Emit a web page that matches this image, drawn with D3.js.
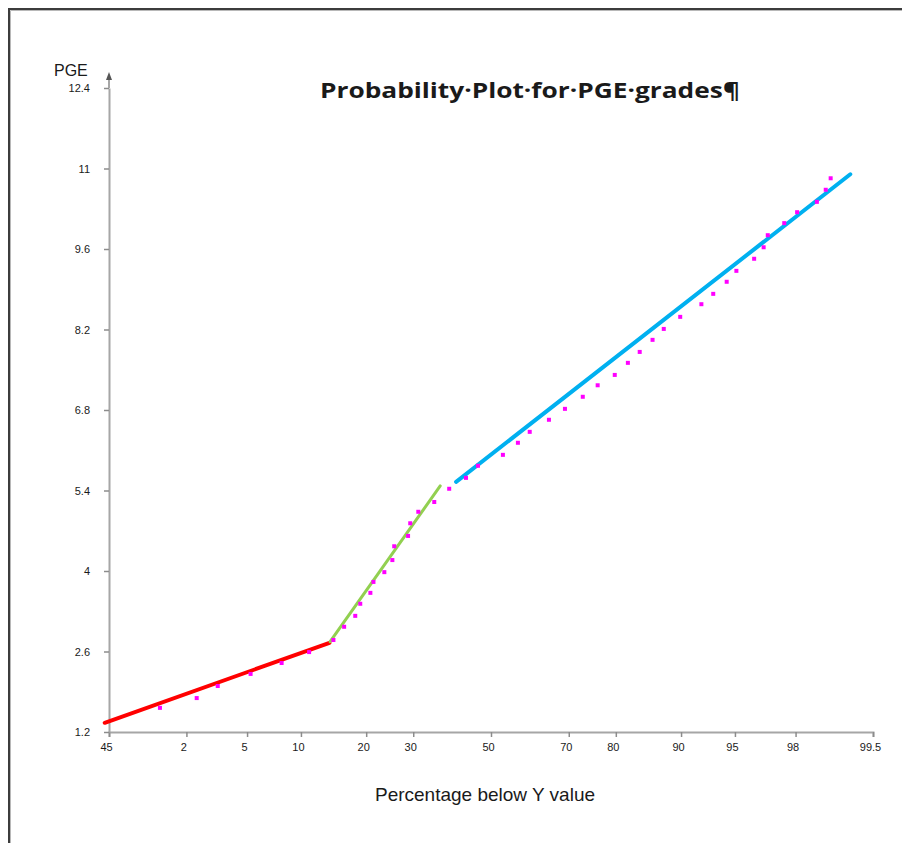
<!DOCTYPE html>
<html>
<head>
<meta charset="utf-8">
<script src="https://cdn.jsdelivr.net/npm/d3@7"></script>
<style>
    body { margin: 0; background: #fff; }
    svg { display: block; }
</style>
</head>
<body>
<div id="plot"></div>
<script>
// Values.
// Plotting position (percentage below value) and PGE grade for each point.
var pointPct = [1.28, 2.36, 3.27, 5.25, 7.9, 11.0, 14.4, 16.1, 18.0, 18.9, 20.8, 21.4,
    23.6, 25.3, 25.7, 28.8, 29.3, 31.2, 35.1, 38.9, 43.3, 46.5, 53.2, 57.2, 60.3,
    65.2, 69.1, 73.2, 76.4, 79.8, 82.2, 84.2, 86.2, 87.8, 89.9, 92.2, 93.3, 94.4,
    95.1, 96.2, 96.7, 96.9, 97.6, 98.05, 98.6, 98.8, 98.9];
var pointPGE = [1.62, 1.79, 2.0, 2.21, 2.4, 2.59, 2.8, 3.03, 3.22, 3.43, 3.62, 3.81,
    3.98, 4.19, 4.43, 4.61, 4.83, 5.03, 5.2, 5.43, 5.62, 5.83, 6.02, 6.23, 6.42,
    6.63, 6.82, 7.03, 7.23, 7.41, 7.62, 7.81, 8.02, 8.21, 8.42, 8.64, 8.82, 9.03,
    9.22, 9.43, 9.63, 9.84, 10.05, 10.24, 10.42, 10.63, 10.83];

// Fitted segments: [percentage, PGE] at each end.
var redSegment = [[0.46, 1.36], [13.8, 2.75]];
var greenSegment = [[13.9, 2.77], [36.6, 5.48]];
var blueSegment = [[40.7, 5.55], [99.23, 10.9]];

var xTicks = [0.5, 2, 5, 10, 20, 30, 50, 70, 80, 90, 95, 98, 99.5];
var xTickLabels = ["45", "2", "5", "10", "20", "30", "50", "70", "80", "90", "95", "98", "99.5"];
var yTicks = [1.2, 2.6, 4, 5.4, 6.8, 8.2, 9.6, 11, 12.4];
var yTickLabels = ["1.2", "2.6", "4", "5.4", "6.8", "8.2", "9.6", "11", "12.4"];

var width = 902, height = 843;

// Inverse of the standard normal CDF (Acklam), used for the probability axis.
function probit(p) {
    var a = [-39.69683028665376, 220.9460984245205, -275.9285104469687,
        138.3577518672690, -30.66479806614716, 2.506628277459239];
    var b = [-54.47609879822406, 161.5858368580409, -155.6989798598866,
        66.80131188771972, -13.28068155288572];
    var c = [-0.007784894002430293, -0.3223964580411365, -2.400758277161838,
        -2.549732539343734, 4.374664141464968, 2.938163982698783];
    var d = [0.007784695709041462, 0.3224671290700398, 2.445134137142996,
        3.754408661907416];
    var plow = 0.02425, q, r;
    if (p < plow) {
        q = Math.sqrt(-2 * Math.log(p));
        return (((((c[0] * q + c[1]) * q + c[2]) * q + c[3]) * q + c[4]) * q + c[5]) /
            ((((d[0] * q + d[1]) * q + d[2]) * q + d[3]) * q + 1);
    }
    if (p > 1 - plow) {
        q = Math.sqrt(-2 * Math.log(1 - p));
        return -(((((c[0] * q + c[1]) * q + c[2]) * q + c[3]) * q + c[4]) * q + c[5]) /
            ((((d[0] * q + d[1]) * q + d[2]) * q + d[3]) * q + 1);
    }
    q = p - 0.5;
    r = q * q;
    return (((((a[0] * r + a[1]) * r + a[2]) * r + a[3]) * r + a[4]) * r + a[5]) * q /
        (((((b[0] * r + b[1]) * r + b[2]) * r + b[3]) * r + b[4]) * r + 1);
}

var z = pct => probit(pct / 100);

var svg = d3.select("div#plot").append("svg")
    .attr("width", width)
    .attr("height", height)
    .attr("viewBox", "0 0 " + width + " " + height);

// Frame (top and left edges visible)
svg.append("path")
    .attr("d", "M9,843 V9 H902")
    .attr("fill", "none")
    .attr("stroke", "#3c3c3c")
    .attr("stroke-width", 2);
svg.append("path")
    .attr("d", "M10.5,843 V10.5 H902")
    .attr("fill", "none")
    .attr("stroke", "#b8b8b8")
    .attr("stroke-width", 1);

var x_scale = d3.scaleLinear()
    .domain([z(0.5), z(99.5)])
    .range([109, 873]);

var y_scale = d3.scaleLinear()
    .domain([1.2, 12.4])
    .range([732, 88]);

// X axis
var g_x_axis = svg.append("g")
    .attr("id", "x_axis")
    .attr("transform", "translate(0," + y_scale(1.2) + ")")
    .call(d3.axisBottom(x_scale)
        .tickValues(xTicks.map(z))
        .tickFormat((d, i) => xTickLabels[i])
        .tickSize(5)
        .tickSizeOuter(5)
        .tickPadding(6));

// Y axis
var g_y_axis = svg.append("g")
    .attr("id", "y_axis")
    .attr("transform", "translate(" + x_scale(z(0.5)) + ",0)")
    .call(d3.axisLeft(y_scale)
        .tickValues(yTicks)
        .tickFormat((d, i) => yTickLabels[i])
        .tickSize(5)
        .tickSizeOuter(0)
        .tickPadding(14));

[g_x_axis, g_y_axis].forEach(function(g) {
    g.select(".domain").attr("stroke", "#a6a6a6").attr("stroke-width", 2);
    g.selectAll(".tick line").attr("stroke", "#8c8c8c").attr("stroke-width", 1.5);
    g.selectAll(".tick text")
        .attr("fill", "#1a1a1a")
        .style("font-family", "Arial, 'Liberation Sans', sans-serif")
        .style("font-size", "11px");
});
g_x_axis.selectAll(".tick text").attr("dx", "-3");

// Y axis extends above the last tick and ends in an arrow.
var yTop = y_scale(12.4) - 10;
g_y_axis.append("line")
    .attr("y1", y_scale(12.4))
    .attr("y2", yTop)
    .attr("stroke", "#a6a6a6")
    .attr("stroke-width", 2);
g_y_axis.append("path")
    .attr("d", "M0," + (yTop - 6) + " L3," + (yTop + 2) + " L-3," + (yTop + 2) + "Z")
    .attr("fill", "#555");

// Fitted segments
var line = d3.line()
    .x(d => x_scale(z(d[0])))
    .y(d => y_scale(d[1]));

var segments = [
    { data: redSegment, color: "#ff0000", w: 4 },
    { data: greenSegment, color: "#92d050", w: 3 },
    { data: blueSegment, color: "#00b0f0", w: 4 }
];

svg.append("g")
    .attr("id", "lines")
    .selectAll("path")
    .data(segments)
    .join("path")
        .attr("d", d => line(d.data))
        .attr("fill", "none")
        .attr("stroke", d => d.color)
        .attr("stroke-width", d => d.w)
        .attr("stroke-linecap", "round");

// Points
var points = d3.range(pointPct.length).map(function(i) {
    return { pct: pointPct[i], pge: pointPGE[i] };
});

svg.append("g")
    .attr("id", "points")
    .selectAll("rect")
    .data(points)
    .join("rect")
        .attr("x", d => x_scale(z(d.pct)) - 2)
        .attr("y", d => y_scale(d.pge) - 2)
        .attr("width", 4)
        .attr("height", 4)
        .attr("fill", "#ff00ff");

// Texts
svg.append("text")
    .attr("x", 54)
    .attr("y", 76)
    .attr("fill", "#1a1a1a")
    .style("font-family", "Arial, 'Liberation Sans', sans-serif")
    .style("font-size", "16px")
    .text("PGE");

svg.append("text")
    .attr("x", 320)
    .attr("y", 98)
    .attr("fill", "#1a1a1a")
    .attr("textLength", 420)
    .attr("lengthAdjust", "spacingAndGlyphs")
    .style("font-family", "'Open Sans', Lato, sans-serif")
    .style("font-weight", "bold")
    .style("font-size", "22px")
    .text("Probability·Plot·for·PGE·grades¶");

svg.append("text")
    .attr("x", 485)
    .attr("y", 801)
    .attr("text-anchor", "middle")
    .attr("fill", "#1a1a1a")
    .style("font-family", "Arial, 'Liberation Sans', sans-serif")
    .style("font-size", "19px")
    .text("Percentage below Y value");
</script>
</body>
</html>
